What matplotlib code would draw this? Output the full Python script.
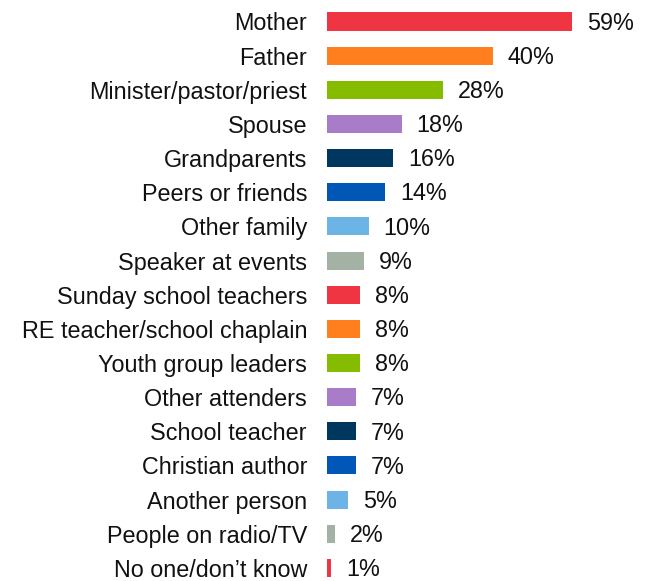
import matplotlib
matplotlib.use("Agg")
import matplotlib.pyplot as plt

categories = ["Mother", "Father", "Minister/pastor/priest", "Spouse", "Grandparents",
              "Peers or friends", "Other family", "Speaker at events", "Sunday school teachers",
              "RE teacher/school chaplain", "Youth group leaders", "Other attenders",
              "School teacher", "Christian author", "Another person", "People on radio/TV",
              "No one/don\u2019t know"]
values = [59, 40, 28, 18, 16, 14, 10, 9, 8, 8, 8, 7, 7, 7, 5, 2, 1]
palette = ["#EF3442", "#FF7F1E", "#86BC00", "#A87CC8", "#00375F", "#0057B8", "#6CB4E6", "#A4B2A5"]
colors = [palette[i % len(palette)] for i in range(len(values))]

plt.rcParams['font.family'] = ['Liberation Sans', 'DejaVu Sans']

fig = plt.figure(figsize=(6.49, 5.81), dpi=100)
ax = fig.add_axes([327/649, 0, 322/649, 1])
ys = list(range(len(values)))
ax.barh(ys, values, height=0.53, color=colors)
ax.set_xlim(0, 322/4.15)
ax.set_ylim((581-21.5)/34.15, -21.5/34.15)
for y, v in zip(ys, values):
    ax.text(v + 15/4.15, y + 0.05, f"{v}%", va="center", ha="left", fontsize=16.8, color="#111111")
ax.set_yticks(ys)
ax.set_yticklabels(categories, fontsize=16.8, color="#111111")
ax.tick_params(axis='y', length=0, pad=14.4)
ax.set_xticks([])
for s in ax.spines.values():
    s.set_visible(False)
fig.savefig("out.png", dpi=100)
